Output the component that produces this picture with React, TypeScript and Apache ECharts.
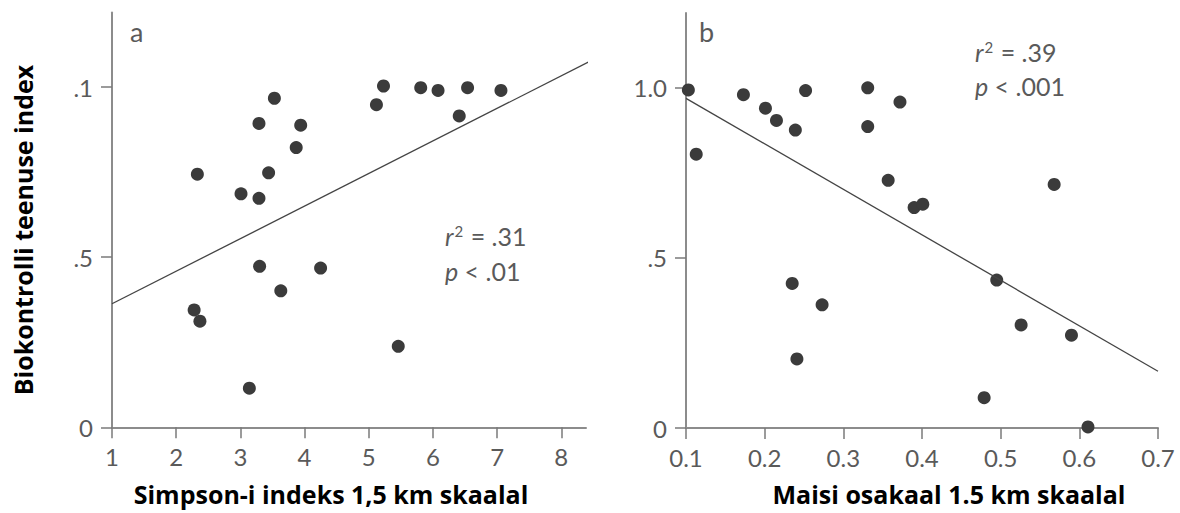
import React, { useEffect, useRef } from "react";
import * as echarts from "echarts";

// Panel a: Simpson index vs biocontrol index
const simpsonIndex = [2.33, 3.01, 3.29, 3.44, 3.29, 3.53, 3.94, 3.87, 5.12, 5.23, 5.81, 6.08, 6.41, 6.54, 7.06, 3.30, 4.25, 3.63, 2.28, 2.37, 5.46, 3.14];
const biocontrolA = [0.744, 0.686, 0.673, 0.748, 0.893, 0.967, 0.888, 0.822, 0.948, 1.003, 0.998, 0.990, 0.915, 0.998, 0.990, 0.473, 0.468, 0.401, 0.345, 0.312, 0.238, 0.115];

// Panel b: maize share vs biocontrol index
const maizeShare = [0.103, 0.113, 0.173, 0.201, 0.215, 0.239, 0.252, 0.331, 0.331, 0.372, 0.357, 0.390, 0.401, 0.568, 0.235, 0.273, 0.241, 0.495, 0.526, 0.590, 0.479, 0.611];
const biocontrolB = [0.994, 0.805, 0.980, 0.940, 0.904, 0.876, 0.992, 1.000, 0.886, 0.958, 0.728, 0.648, 0.658, 0.716, 0.425, 0.362, 0.203, 0.435, 0.303, 0.273, 0.089, 0.003];

// Regression fits: [intercept, slope] and x-range
const fitA = [0.2673, 0.0957];
const fitARange = [1, 8.44];
const fitB = [1.1027, -1.337];
const fitBRange = [0.1, 0.7];

// Ticks
const xTicksA = [1, 2, 3, 4, 5, 6, 7, 8];
const xTicksB = [0.1, 0.2, 0.3, 0.4, 0.5, 0.6, 0.7];
const xTickLabelsB = ["0.1", "0.2", "0.3", "0.4", "0.5", "0.6", "0.7"];
const yTicks = [0, 0.5, 1.0];
const yTickLabelsA = ["0", ".5", ".1"];
const yTickLabelsB = ["0", ".5", "1.0"];

const statsA = ["r", "2", " = .31", "p", " < .01"];
const statsB = ["r", "2", " = .39", "p", " < .001"];
const panelLetters = ["a", "b"];
const yTitle = "Biokontrolli teenuse index";
const xTitleA = "Simpson-i indeks 1,5 km skaalal";
const xTitleB = "Maisi osakaal 1.5 km skaalal";

const labelColor = "#5a5a5a";
const axisColor = "#8c8c8c";
const dotColor = "#3b3b3b";
const tickFont = "Lato";
const titleFont = "'Open Sans'";

function lookup(values: number[], labels: string[], v: number) {
  for (let i = 0; i < values.length; i++) {
    if (Math.abs(values[i] - v) < 1e-6) return labels[i];
  }
  return "";
}

function makeXAxis(idx: number, min: number, max: number, ticks: number[], labels: string[]) {
  return {
    type: "value",
    gridIndex: idx,
    min,
    max,
    splitLine: { show: false },
    axisLine: { show: true, onZero: false, lineStyle: { color: axisColor, width: 2 } },
    axisTick: { show: true, length: 11, customValues: ticks, lineStyle: { color: "#7a7a7a", width: 1.5 } },
    axisLabel: {
      customValues: ticks,
      margin: 17,
      color: labelColor,
      fontFamily: tickFont,
      fontSize: 24,
      formatter: (v: number) => lookup(ticks, labels, v),
    },
  };
}

function makeYAxis(idx: number, max: number, labels: string[]) {
  return {
    type: "value",
    gridIndex: idx,
    min: 0,
    max,
    splitLine: { show: false },
    axisLine: { show: true, onZero: false, lineStyle: { color: axisColor, width: 2 } },
    axisTick: { show: true, length: 11, customValues: yTicks, lineStyle: { color: "#7a7a7a", width: 1.5 } },
    axisLabel: {
      customValues: yTicks,
      margin: 19,
      color: labelColor,
      fontFamily: tickFont,
      fontSize: 24,
      formatter: (v: number) => lookup(yTicks, labels, v),
    },
  };
}

function statText(x: number, y: number, s: string[], dy: number) {
  const rich = {
    it: { fontStyle: "italic", fontFamily: tickFont, fontSize: 25, fill: labelColor },
    sup: { fontFamily: tickFont, fontSize: 15, fill: labelColor, verticalAlign: "top", padding: [0, 1, 10, 1] },
    n: { fontFamily: tickFont, fontSize: 25, fill: labelColor },
  };
  return [
    {
      type: "text",
      x,
      y,
      style: {
        text: `{it|${s[0]}}{sup|${s[1]}}{n|${s[2]}}`,
        rich,
        verticalAlign: "middle",
        align: "left",
      },
    },
    {
      type: "text",
      x,
      y: y + dy,
      style: {
        text: `{it|${s[3]}}{n|${s[4]}}`,
        rich,
        verticalAlign: "middle",
        align: "left",
      },
    },
  ];
}

export default function App() {
  const ref = useRef<HTMLDivElement>(null);
  useEffect(() => {
    if (!ref.current) return;
    const chart = echarts.init(ref.current, undefined, { renderer: "svg" });
    const lineA = fitARange.map((x) => [x, fitA[0] + fitA[1] * x]);
    const lineB = fitBRange.map((x) => [x, fitB[0] + fitB[1] * x]);
    const titleStyle = {
      fontFamily: titleFont,
      fontWeight: "bold",
      fontSize: 25,
      fill: "#000",
      align: "center",
      verticalAlign: "middle",
    };
    const option = {
      animation: false,
      backgroundColor: "#ffffff",
      grid: [
        { left: 112, top: 12.5, width: 474, height: 414.8 },
        { left: 686, top: 13, width: 472, height: 415 },
      ],
      xAxis: [
        makeXAxis(0, 1, 8.385, xTicksA, xTicksA.map(String)),
        makeXAxis(1, 0.1, 0.7, xTicksB, xTickLabelsB),
      ],
      yAxis: [makeYAxis(0, 1.219, yTickLabelsA), makeYAxis(1, 1.22, yTickLabelsB)],
      series: [
        {
          type: "line",
          xAxisIndex: 0,
          yAxisIndex: 0,
          data: lineA,
          symbol: "none",
          clip: false,
          silent: true,
          lineStyle: { color: "#444", width: 1.3 },
        },
        {
          type: "line",
          xAxisIndex: 1,
          yAxisIndex: 1,
          data: lineB,
          symbol: "none",
          clip: false,
          silent: true,
          lineStyle: { color: "#444", width: 1.3 },
        },
        {
          type: "scatter",
          xAxisIndex: 0,
          yAxisIndex: 0,
          data: simpsonIndex.map((x, i) => [x, biocontrolA[i]]),
          symbolSize: 13,
          clip: false,
          itemStyle: { color: dotColor, opacity: 1 },
        },
        {
          type: "scatter",
          xAxisIndex: 1,
          yAxisIndex: 1,
          data: maizeShare.map((x, i) => [x, biocontrolB[i]]),
          symbolSize: 13,
          clip: false,
          itemStyle: { color: dotColor, opacity: 1 },
        },
      ],
      graphic: [
        {
          type: "text",
          x: 130,
          y: 31,
          style: { text: panelLetters[0], fontFamily: tickFont, fontSize: 27, fill: labelColor, verticalAlign: "middle" },
        },
        {
          type: "text",
          x: 699,
          y: 31,
          style: { text: panelLetters[1], fontFamily: tickFont, fontSize: 27, fill: labelColor, verticalAlign: "middle" },
        },
        ...statText(445, 236, statsA, 35),
        ...statText(975, 52, statsB, 34),
        { type: "text", x: 23, y: 230, rotation: Math.PI / 2, style: { text: yTitle, ...titleStyle } },
        { type: "text", x: 331, y: 494, style: { text: xTitleA, ...titleStyle } },
        { type: "text", x: 949, y: 494, style: { text: xTitleB, ...titleStyle } },
      ],
    };
    chart.setOption(option as any);
    return () => chart.dispose();
  }, []);
  return (
    <div
      ref={ref}
      style={{ position: "fixed", left: 0, top: 0, width: 1180, height: 513, background: "#fff" }}
    />
  );
}
